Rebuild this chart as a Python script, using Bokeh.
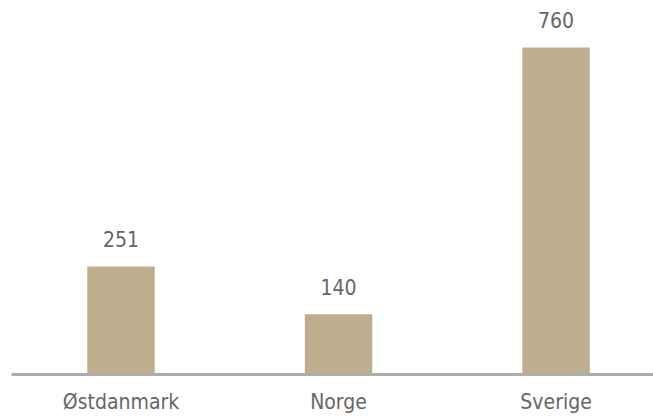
from bokeh.plotting import figure
from bokeh.models import ColumnDataSource, FixedTicker, Range1d, LabelSet
from bokeh.core.properties import value
from bokeh.embed import file_html
from bokeh.resources import INLINE

categories = ["Østdanmark", "Norge", "Sverige"]
values = [251, 140, 760]

FONT = "DejaVu Sans Condensed"
TEXT_COLOR = "#666666"
BAR_COLOR = "#BEAE8E"

src = ColumnDataSource(dict(
    x=list(range(len(categories))),
    top=values,
    label=[str(v) for v in values],
))

p = figure(width=653, height=416, output_backend="svg", toolbar_location=None,
           x_range=Range1d(-0.5034, 2.448), y_range=Range1d(0, 869.2),
           min_border_left=11, min_border_right=0, min_border_top=0, min_border_bottom=42,
           y_axis_location=None)

p.vbar(x="x", top="top", bottom=0, width=0.31, source=src,
       fill_color=BAR_COLOR, line_color=None)

labels = LabelSet(x="x", y="top", text="label", source=src,
                  text_align="center", text_baseline="alphabetic", y_offset=19,
                  text_font=value(FONT), text_font_size=value("21px"),
                  text_color=value(TEXT_COLOR))
p.add_layout(labels)

ax = p.xaxis[0]
ax.ticker = FixedTicker(ticks=list(range(len(categories))))
ax.major_label_overrides = {i: c for i, c in enumerate(categories)}
ax.major_tick_line_color = None
ax.minor_tick_line_color = None
ax.axis_line_color = "#ADADAD"
ax.axis_line_width = 3
ax.major_label_text_font = FONT
ax.major_label_text_font_size = "21px"
ax.major_label_text_color = TEXT_COLOR
ax.major_label_standoff = 9

p.xgrid.grid_line_color = None
p.ygrid.grid_line_color = None
p.outline_line_color = None
p.background_fill_color = "white"
p.border_fill_color = "white"

open("out.html", "w").write(file_html(p, INLINE))
